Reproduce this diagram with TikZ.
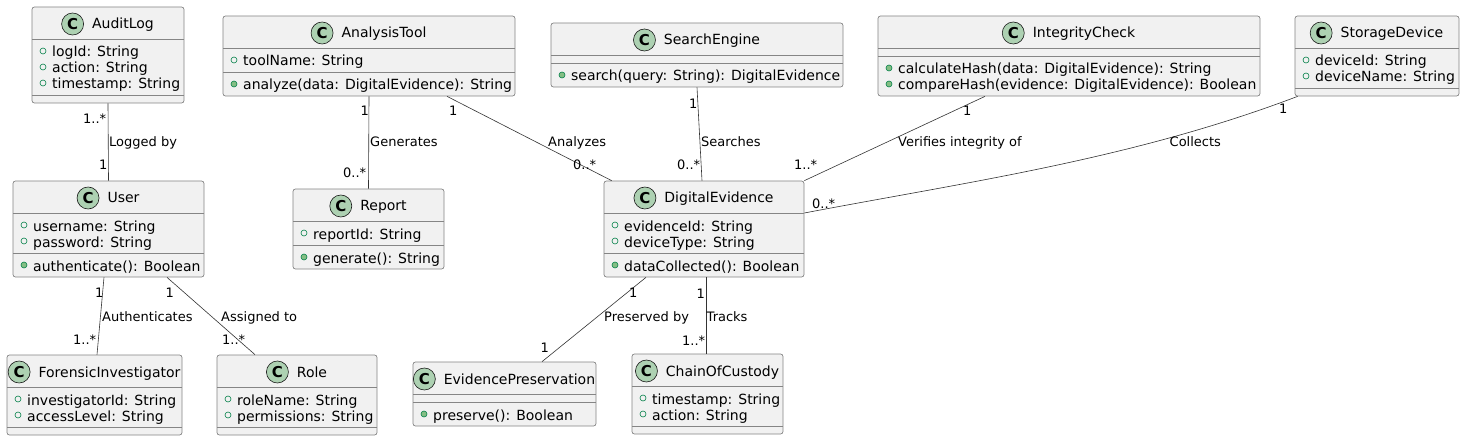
\documentclass[tikz,border=0pt]{standalone}
\usepackage{fontspec}
\setmainfont{DejaVu Sans}
\usepackage{xcolor}
\usepackage{tikz}
\usetikzlibrary{positioning,fit}

\definecolor{clsfill}{HTML}{F1F1F1}
\definecolor{clsline}{HTML}{858585}
\definecolor{iconline}{HTML}{181818}
\definecolor{iconfill}{HTML}{ADD1B2}
\definecolor{visline}{HTML}{038048}
\definecolor{visfill}{HTML}{84BE84}

% class box: name, left, top, right, title, no. of fields, fields, no. of methods, methods
\newcommand{\umlclass}[9]{%
  \pgfmathsetmacro\sepA{#3+32}%
  \pgfmathsetmacro\sepB{\sepA+8+16*#6}%
  \pgfmathsetmacro\clsbot{\sepB+8+16*#8}%
  \node[cls, fit={(#2,#3) (#4,\clsbot)}] (#1) {};
  \node[ctitle] (#1-name) at ({(#2+#4)/2+15},{#3+17}) {#5};
  \node[cicon, left=8pt of #1-name] (#1-icon) {C};
  \draw[sep] (#2,\sepA) -- (#4,\sepA);
  \draw[sep] (#2,\sepB) -- (#4,\sepB);
  \ifnum#6>0
  \foreach \m [count=\i] in {#7} {
    \node[member] (#1-f\i) at ({#2+20},{\sepA+18+16*(\i-1)}) {\m};
    \node[field] (#1-fv\i) at ({#2+11},{\sepA+12+16*(\i-1)}) {};
  }\fi
  \ifnum#8>0
  \foreach \m [count=\i] in {#9} {
    \node[member] (#1-m\i) at ({#2+20},{\sepB+18+16*(\i-1)}) {\m};
    \node[method] (#1-mv\i) at ({#2+11},{\sepB+12+16*(\i-1)}) {};
  }\fi
}

\begin{document}
\begin{tikzpicture}[
  x=1pt, y=-1pt,
  cls/.style={draw=clsline, line width=0.7pt, fill=clsfill, rounded corners=2.5pt, inner sep=0pt},
  sep/.style={draw=clsline, line width=0.7pt},
  ctitle/.style={inner sep=0pt, text height=10pt, text depth=0pt, font=\fontsize{14}{16}\selectfont},
  cicon/.style={circle, draw=iconline, line width=0.6pt, fill=iconfill, minimum size=22pt,
                inner sep=0pt, font=\fontsize{15}{16}\selectfont\bfseries},
  member/.style={anchor=base west, inner sep=0pt, font=\fontsize{14}{16}\selectfont},
  field/.style={circle, draw=visline, line width=0.6pt, minimum size=6pt, inner sep=0pt},
  method/.style={field, fill=visfill},
  lbl/.style={anchor=base west, inner sep=0pt, font=\fontsize{13}{15}\selectfont},
  assoc/.style={draw=black!80, line width=0.6pt}
]
  \path[fill=white] (0,0) rectangle (1465,441);
  \useasboundingbox (0,0) rectangle (1465,441);

  % Top row
  \umlclass{auditlog}{32}{7}{184}{AuditLog}{3}{logId: String, action: String, timestamp: String}{0}{}
  \umlclass{analysistool}{223}{16}{515}{AnalysisTool}{1}{toolName: String}{1}{analyze(data: DigitalEvidence): String}
  \umlclass{searchengine}{551}{23}{843}{SearchEngine}{0}{}{1}{search(query: String): DigitalEvidence}
  \umlclass{integritycheck}{878}{16}{1260}{IntegrityCheck}{0}{}{2}{calculateHash(data: DigitalEvidence): String, compareHash(evidence: DigitalEvidence): Boolean}
  \umlclass{storagedevice}{1295}{16}{1459}{StorageDevice}{2}{deviceId: String, deviceName: String}{0}{}
  % Middle row
  \umlclass{user}{13}{181}{204}{User}{2}{username: String, password: String}{1}{authenticate(): Boolean}
  \umlclass{report}{293}{189}{444}{Report}{1}{reportId: String}{1}{generate(): String}
  \umlclass{digitalevidence}{604}{181}{804}{DigitalEvidence}{2}{evidenceId: String, deviceType: String}{1}{dataCollected(): Boolean}
  % Bottom row
  \umlclass{forensicinvestigator}{7}{355}{182}{ForensicInvestigator}{2}{investigatorId: String, accessLevel: String}{0}{}
  \umlclass{role}{217}{355}{377}{Role}{2}{roleName: String, permissions: String}{0}{}
  \umlclass{evidencepreservation}{413}{362}{596}{EvidencePreservation}{0}{}{1}{preserve(): Boolean}
  \umlclass{chainofcustody}{632}{354}{783}{ChainOfCustody}{2}{timestamp: String, action: String}{0}{}

  % Associations
  \draw[assoc] (auditlog.south) -- (user.north);
  \draw[assoc] (analysistool.south) -- (report.north);
  \draw[assoc] ([xshift=78pt]analysistool.south) -- ([xshift=8pt]digitalevidence.north west);
  \draw[assoc] (searchengine.south) -- ([xshift=-2pt]digitalevidence.north);
  \draw[assoc] ([xshift=-84pt]integritycheck.south) -- (digitalevidence.north east);
  \draw[assoc] ([xshift=3pt]storagedevice.south west) .. controls +(-165,62.7) and +(165,-31.4) .. ([yshift=16pt]digitalevidence.east);
  \draw[assoc] ([xshift=-4.5pt]user.south) -- ([xshift=2.5pt]forensicinvestigator.north);
  \draw[assoc] ([xshift=58.5pt]user.south) -- ([xshift=-42pt]role.north);
  \draw[assoc] ([xshift=-58pt]digitalevidence.south) -- ([xshift=37.5pt]evidencepreservation.north);
  \draw[assoc] ([xshift=2pt]digitalevidence.south) -- ([xshift=-1.5pt]chainofcustody.north);

  % Labels and multiplicities
  \node[lbl] (al-m1) at (83,124) {1..*};
  \node[lbl] (al-l)  at (109,147) {Logged by};
  \node[lbl] (al-m2) at (99,170) {1};
  \node[lbl] (rp-m1) at (360.5,116) {1};
  \node[lbl] (rp-l)  at (370,147) {Generates};
  \node[lbl] (rp-m2) at (343,178) {0..*};
  \node[lbl] (an-m1) at (449,116) {1};
  \node[lbl] (an-l)  at (548,147) {Analyzes};
  \node[lbl] (an-m2) at (573,170) {0..*};
  \node[lbl] (se-m1) at (689,108.7) {1};
  \node[lbl] (se-l)  at (701,147) {Searches};
  \node[lbl] (se-m2) at (677,170) {0..*};
  \node[lbl] (ic-m1) at (963,116) {1};
  \node[lbl] (ic-l)  at (898,147) {Verifies integrity of};
  \node[lbl] (ic-m2) at (794,170) {1..*};
  \node[lbl] (sd-m1) at (1279,114) {1};
  \node[lbl] (sd-l)  at (1169.5,147) {Collects};
  \node[lbl] (sd-m2) at (812,208) {0..*};
  \node[lbl] (fi-m1) at (95,297) {1};
  \node[lbl] (fi-l)  at (102,321.5) {Authenticates};
  \node[lbl] (fi-m2) at (73,344) {1..*};
  \node[lbl] (ro-m1) at (165.5,297) {1};
  \node[lbl] (ro-l)  at (221,321.5) {Assigned to};
  \node[lbl] (ro-m2) at (222,344) {1..*};
  \node[lbl] (ep-m1) at (629,297.5) {1};
  \node[lbl] (ep-l)  at (604,321) {Preserved by};
  \node[lbl] (ep-m2) at (540.5,352.7) {1};
  \node[lbl] (cc-m1) at (696.5,298) {1};
  \node[lbl] (cc-l)  at (706.5,321) {Tracks};
  \node[lbl] (cc-m2) at (682,345) {1..*};
\end{tikzpicture}
\end{document}
